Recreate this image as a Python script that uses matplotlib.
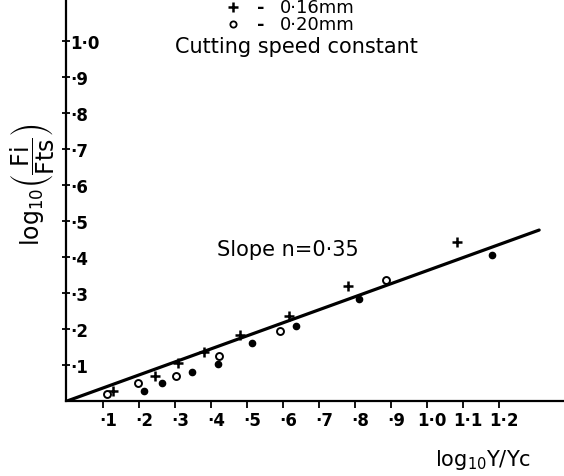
import matplotlib
matplotlib.use("Agg")
import matplotlib.pyplot as plt
import matplotlib.transforms as mtransforms

# ===== DATA =====
plus_x = [0.128, 0.245, 0.309, 0.381, 0.48, 0.615, 0.781, 1.084]
plus_y = [0.029, 0.070, 0.106, 0.135, 0.184, 0.235, 0.319, 0.441]

circle_x = [0.110, 0.197, 0.302, 0.422, 0.591, 0.887]
circle_y = [0.019, 0.049, 0.070, 0.124, 0.195, 0.337]

dot_x = [0.214, 0.263, 0.346, 0.420, 0.513, 0.635, 0.811, 1.181]
dot_y = [0.027, 0.049, 0.080, 0.103, 0.160, 0.209, 0.283, 0.406]

fit_x = [0.0, 1.311]
fit_y = [0.0, 0.475]

x_ticks = [0.1, 0.2, 0.3, 0.4, 0.5, 0.6, 0.7, 0.8, 0.9, 1.0, 1.1, 1.2]
x_labels = ["·1", "·2", "·3", "·4", "·5", "·6", "·7", "·8", "·9", "1·0", "1·1", "1·2"]
y_ticks = [0.1, 0.2, 0.3, 0.4, 0.5, 0.6, 0.7, 0.8, 0.9, 1.0]
y_labels = ["·1", "·2", "·3", "·4", "·5", "·6", "·7", "·8", "·9", "1·0"]

legend_labels = ["0·16mm", "0·20mm"]

plt.rcParams['font.family'] = ['DejaVu Sans']
plt.rcParams['mathtext.fontset'] = 'dejavusans'

# ===== FIGURE =====
fig = plt.figure(figsize=(5.64, 4.77), dpi=100)
ax = fig.add_axes([66 / 564, 75 / 477, 498 / 564, 402 / 477])

ax.plot(fit_x, fit_y, color="black", lw=2.3, solid_capstyle="round")

ax.plot(plus_x, plus_y, "+", color="black", ms=7, mew=1.8)
ax.plot(circle_x, circle_y, "o", mfc="white", mec="black", ms=5, mew=1.4)
ax.plot(dot_x, dot_y, "o", color="black", ms=4.5)

ax.set_xlim(-0.003, 1.38)
ax.set_ylim(0, 1.117)

for side in ["top", "right"]:
    ax.spines[side].set_visible(False)
for side in ["left", "bottom"]:
    ax.spines[side].set_linewidth(1.6)

ax.set_xticks(x_ticks)
ax.set_xticklabels(x_labels, fontsize=12, fontweight="bold")
ax.set_yticks(y_ticks)
ax.set_yticklabels(y_labels, fontsize=12, fontweight="bold")

ax.tick_params(axis="x", direction="out", length=5, width=1.3, pad=2)
ax.tick_params(axis="y", direction="inout", length=6, width=1.3, pad=-6)
for lab in ax.get_yticklabels():
    lab.set_horizontalalignment("left")

shift = mtransforms.ScaledTranslation(5 / 100, 0, fig.dpi_scale_trans)
for lab in ax.get_xticklabels():
    lab.set_transform(lab.get_transform() + shift)

# ===== TEXT =====
ax.text(0.30, 0.969, "Cutting speed constant", fontsize=15, va="baseline")
ax.text(0.417, 0.422, "Slope n=0·35", fontsize=15, va="center")

# legend rows
row1_y = 1.094
row2_y = 1.048
ax.plot([0.461], [row1_y], "+", color="black", ms=7, mew=1.8, clip_on=False)
ax.text(0.528, row1_y, "-", fontsize=13, fontweight="bold", va="center", clip_on=False)
ax.text(0.592, row1_y, legend_labels[0], fontsize=13, va="center", clip_on=False)
ax.plot([0.461], [row2_y], "o", mfc="white", mec="black", ms=4.5, mew=1.3, clip_on=False)
ax.text(0.528, row2_y, "-", fontsize=13, fontweight="bold", va="center", clip_on=False)
ax.text(0.592, row2_y, legend_labels[1], fontsize=13, va="center", clip_on=False)

ax.text(1.022, -0.16, r"log$_{10}$Y/Yc", fontsize=15, va="center", clip_on=False)
ax.text(-0.095, 0.603, r"$\log_{10}\!\left(\dfrac{\mathrm{Fi}}{\mathrm{Fts}}\right)$",
        fontsize=17, rotation=90, ha="center", va="center", clip_on=False)

plt.savefig("out.png", dpi=100)
